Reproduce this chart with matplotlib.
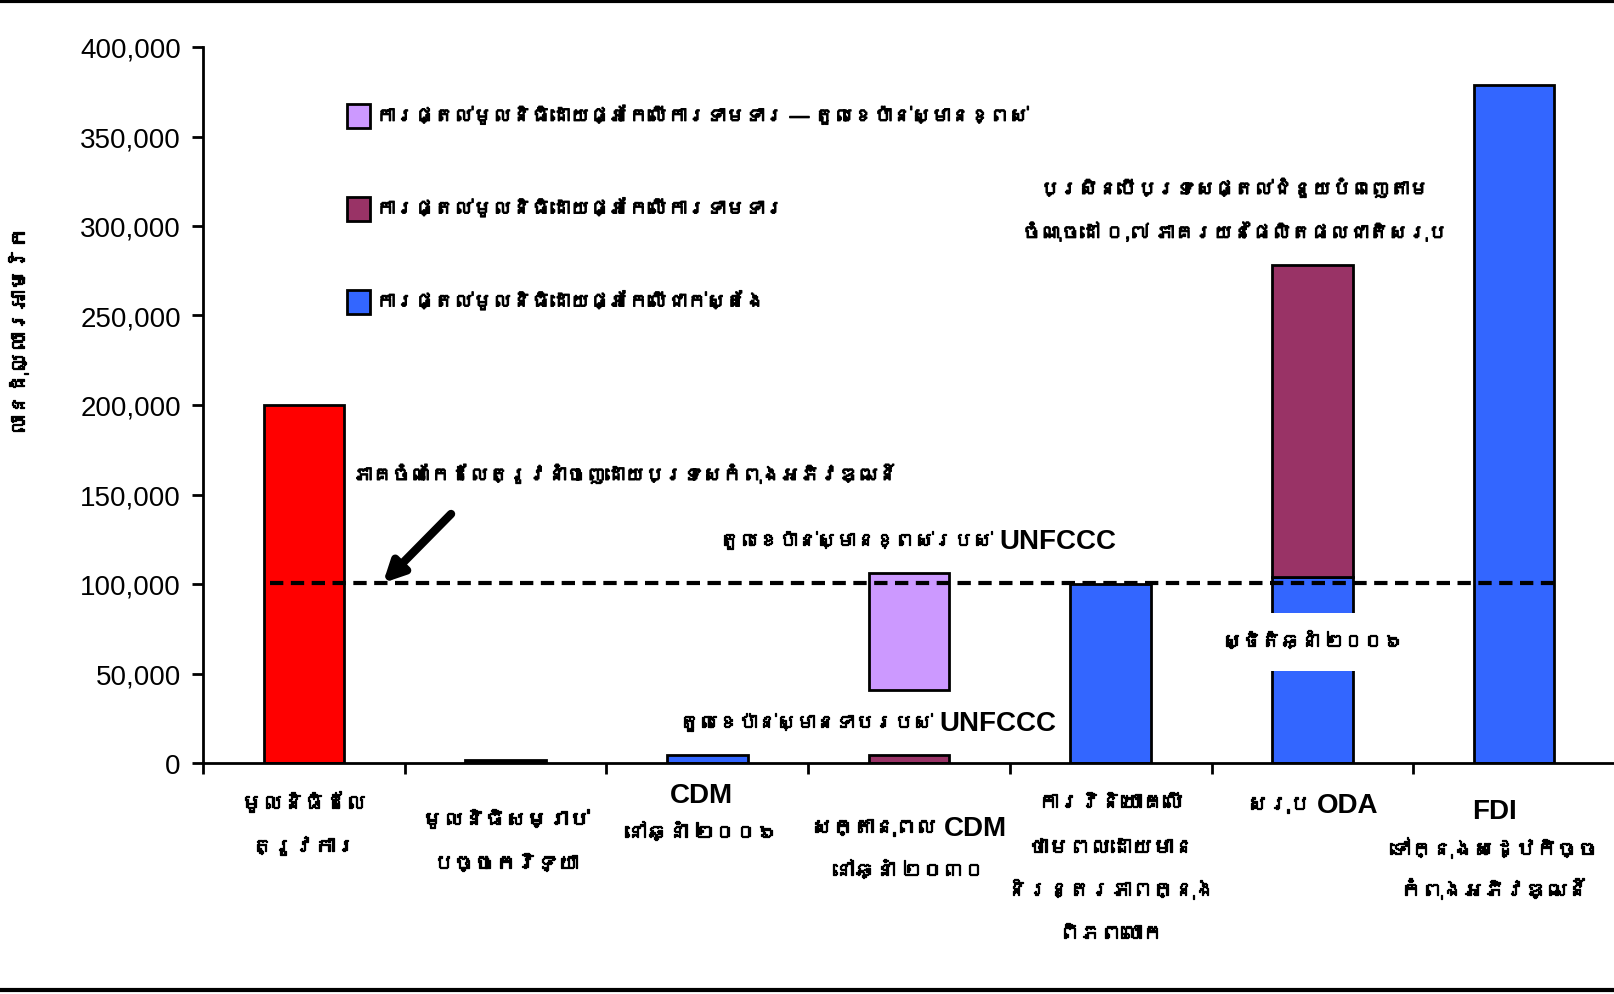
import numpy as np
import matplotlib
matplotlib.use('Agg')
import matplotlib.pyplot as plt
import matplotlib.transforms as mtrans
import matplotlib.patheffects as pe
from matplotlib import font_manager as fm
from matplotlib.ft2font import FT2Font
from matplotlib.patches import Rectangle
from matplotlib.lines import Line2D


# look for any installed family that covers Khmer
def khmer_family():
    for f in fm.fontManager.ttflist:
        try:
            if 0x1780 in FT2Font(f.fname).get_charmap():
                return f.name
        except Exception:
            pass
    return None


kfam = khmer_family()
plt.rcParams['font.family'] = ['Liberation Sans'] + ([kfam] if kfam else []) + ['DejaVu Sans']

# ---- data (US$ millions) ----
# each category label: list of lines, each line a list of (text, is_khmer)
categories = [
    [[('មូលនិធិដែល', 1)], [('ត្រូវការ', 1)]],
    [[('មូលនិធិសម្រាប់', 1)], [('បច្ចេកវិទ្យា', 1)]],
    [[('CDM', 0)], [('នៅឆ្នាំ ២០០៦', 1)]],
    [[('សក្តានុពល', 1), ('CDM', 0)], [('នៅឆ្នាំ ២០៣០', 1)]],
    [[('ការវិនិយោគលើ', 1)], [('ថាមពលដោយមាន', 1)], [('និរន្តរភាពក្នុង', 1)], [('ពិភពលោក', 1)]],
    [[('សរុប', 1), ('ODA', 0)]],
    [[('FDI', 0)], [('ទៅក្នុងសេដ្ឋកិច្ច', 1)], [('កំពុងអភិវឌ្ឍន៍', 1)]],
]
yticks = [0, 50000, 100000, 150000, 200000, 250000, 300000, 350000, 400000]

need_cats = [0]
need_vals = [200000]
tech_cats = [1]
tech_vals = [1500]
actual_cats = [2, 4, 5, 6]
actual_vals = [4500, 100000, 104000, 379000]
required_cats = [3, 5]
required_low = [0, 104000]
required_high = [4600, 278000]
high_cats = [3]
high_low = [41000]
high_high = [106000]
target_line = 100500

legend_labels = [
    'ការផ្តល់មូលនិធិដោយផ្អែកលើការទាមទារ — តួលេខប៉ាន់ស្មានខ្ពស់',
    'ការផ្តល់មូលនិធិដោយផ្អែកលើការទាមទារ',
    'ការផ្តល់មូលនិធិដោយផ្អែកលើជាក់ស្តែង',
]
ylabel = 'លានដុល្លារអាមេរិក'
note_target = 'ភាគចំណែកដែលត្រូវនាំចេញដោយប្រទេសកំពុងអភិវឌ្ឍន៍'
note_high = [('តួលេខប៉ាន់ស្មានខ្ពស់របស់', 1), ('UNFCCC', 0)]
note_low = [('តួលេខប៉ាន់ស្មានទាបរបស់', 1), ('UNFCCC', 0)]
note_oda = ['ប្រសិនបើប្រទេសផ្តល់ជំនួយបំពេញតាម',
            'ចំណុចដៅ ០,៧ ភាគរយនៃផលិតផលជាតិសរុប']
note_2006 = 'ស្ថិតិឆ្នាំ ២០០៦'

RED = '#FF0000'
BLACK = '#000000'
BLUE = '#3366FF'
MAROON = '#993366'
LAV = '#CC99FF'
KS = 15   # khmer size under the axis
NS = 14   # khmer size for legend and notes
LS = 20   # latin text size
# the khmer font has no bold face, thicken it a little with a stroke
BOLD = [pe.withStroke(linewidth=0.9, foreground='black')]

W, H = 1614, 995
fig = plt.figure(figsize=(W / 100, H / 100), dpi=100)
ax = fig.add_axes([203 / W, 1 - 764 / H, 1412 / W, (764 - 48) / H])
renderer = fig.canvas.get_renderer()


def fx(px):
    return px / W


def fy(py):
    return 1 - py / H


def seg_line(xc, yc, segs, ks=KS, gap=7):
    # one line built from khmer / latin pieces, centred on xc (pixels)
    texts = []
    for s, k in segs:
        t = fig.text(0, fy(yc), s, fontsize=ks if k else LS,
                     fontweight='normal' if k else 'bold',
                     ha='left', va='center', path_effects=BOLD if k else None)
        texts.append(t)
    widths = [t.get_window_extent(renderer).width for t in texts]
    x = xc - (sum(widths) + gap * (len(texts) - 1)) / 2
    for t, w in zip(texts, widths):
        t.set_x(fx(x))
        x += w + gap
    return texts


bw = 0.4
kw = dict(width=bw, edgecolor='black', linewidth=2, zorder=2)
ax.bar(need_cats, need_vals, color=RED, **kw)
ax.bar(tech_cats, tech_vals, color=BLACK, **kw)
ax.bar(actual_cats, actual_vals, color=BLUE, **kw)
ax.bar(required_cats, np.array(required_high) - np.array(required_low),
       bottom=required_low, color=MAROON, **kw)
ax.bar(high_cats, np.array(high_high) - np.array(high_low),
       bottom=high_low, color=LAV, **kw)

# dashed target line
dl, = ax.plot([-bw / 2 + 0.03, 6 + bw / 2], [target_line, target_line], color='black',
              lw=3, zorder=4)
dl.set_dashes((3.2, 1.8))

ax.set_xlim(-0.5, 6.5)
ax.set_ylim(0, 400000)
ax.set_yticks(yticks)
ax.set_yticklabels([f'{v:,}' for v in yticks], fontsize=20)
ax.set_xticks(np.arange(-0.5, 7, 1))
ax.set_xticklabels([])
ax.tick_params(axis='both', direction='out', length=8, width=2, pad=8)
for s in ['top', 'right']:
    ax.spines[s].set_visible(False)
for s in ['left', 'bottom']:
    ax.spines[s].set_linewidth(2)

# category labels under the axis (line centres in pixels)
line_ys = [
    [804, 848],
    [821, 865],
    [796, 834],
    [829, 872],
    [804, 849, 891, 935],
    [806],
    [812, 850, 891],
]
x_shift = [0, 0, -6, 0, 0, 0, -20]
fig.canvas.draw()
for i, (lines, ys) in enumerate(zip(categories, line_ys)):
    xc = ax.transData.transform((i, 0))[0] + x_shift[i]
    for segs, yc in zip(lines, ys):
        seg_line(xc, yc, segs)

ax.set_ylabel(ylabel, fontsize=15, labelpad=30, path_effects=BOLD)
ax.yaxis.set_label_coords(fx(29), fy(332), transform=fig.transFigure)

# legend drawn by hand: squares and labels
leg_ys = [117, 210, 303]
for c, lab, yc in zip([LAV, MAROON, BLUE], legend_labels, leg_ys):
    fig.add_artist(Rectangle((fx(347), fy(yc + 12)), 23 / W, 24 / H,
                             transform=fig.transFigure, facecolor=c,
                             edgecolor='black', linewidth=2))
    fig.text(fx(376), fy(yc), lab, fontsize=NS, ha='left', va='center',
             path_effects=BOLD)

# annotations
fig.text(fx(353), fy(476), note_target, fontsize=NS, ha='left', va='center',
         path_effects=BOLD)
ax.annotate('', xy=(fx(381), fy(586)), xytext=(fx(453), fy(513)),
            xycoords='figure fraction', textcoords='figure fraction',
            arrowprops=dict(arrowstyle='-|>,head_length=1.2,head_width=0.6',
                            color='black', lw=6), zorder=5)
seg_line(918, 542, note_high, ks=NS)
seg_line(868, 724, note_low, ks=NS)
fig.text(fx(1235), fy(190), note_oda[0], fontsize=NS, ha='center', va='center',
         path_effects=BOLD)
fig.text(fx(1235), fy(234), note_oda[1], fontsize=NS, ha='center', va='center',
         path_effects=BOLD)
ax.text(5, fy(643), note_2006, fontsize=NS, ha='center', va='center', zorder=6,
        transform=mtrans.blended_transform_factory(ax.transData, fig.transFigure),
        bbox=dict(facecolor='white', edgecolor='none', boxstyle='square,pad=1.0'),
        path_effects=BOLD)

# frame lines top and bottom
fig.add_artist(Line2D([0, 1], [fy(2), fy(2)], transform=fig.transFigure,
                      color='black', lw=3))
fig.add_artist(Line2D([0, 1], [fy(991), fy(991)], transform=fig.transFigure,
                      color='black', lw=3))

fig.savefig('out.png', dpi=100)
